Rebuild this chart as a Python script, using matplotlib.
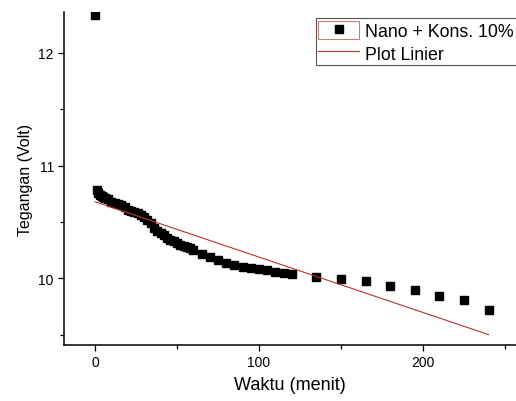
import numpy as np
import matplotlib.pyplot as plt
from matplotlib.legend_handler import HandlerLine2D
from matplotlib.patches import Rectangle

plt.rcParams['font.family'] = ['Liberation Sans', 'DejaVu Sans']

# pengukuran tegangan (menit, volt)
waktu = [0, 1, 2, 3, 4, 5, 6, 8, 10, 12, 14, 16, 18, 20, 22, 24, 26, 28,
         30, 32, 34, 36, 38, 40, 42, 44, 46, 48, 50, 52, 54, 56, 58, 60,
         65, 70, 75, 80, 85, 90, 95, 100, 105, 110, 115, 120,
         135, 150, 165, 180, 195, 210, 225, 240]
tegangan = [12.34, 10.78, 10.76, 10.74, 10.73, 10.72, 10.71, 10.70, 10.68,
            10.67, 10.66, 10.65, 10.63, 10.61, 10.60, 10.59, 10.58, 10.56,
            10.54, 10.52, 10.49, 10.45, 10.42, 10.40, 10.38, 10.36, 10.34,
            10.33, 10.31, 10.30, 10.29, 10.28, 10.27, 10.25,
            10.22, 10.19, 10.16, 10.14, 10.12, 10.10, 10.09, 10.08, 10.07,
            10.06, 10.05, 10.04,
            10.01, 9.99, 9.98, 9.93, 9.90, 9.84, 9.81, 9.72]

# garis linier (titik awal dan akhir)
fit_x = [0, 240]
fit_y = [10.68, 9.50]


class BoxedMarker(HandlerLine2D):
    # marker legenda di dalam kotak kecil ala Origin
    def create_artists(self, legend, orig_handle, xdescent, ydescent,
                       width, height, fontsize, trans):
        artists = super().create_artists(legend, orig_handle, xdescent,
                                         ydescent, width, height, fontsize, trans)
        box = Rectangle((-xdescent, -ydescent), width, height, fill=False,
                        edgecolor='#c08080', lw=0.8, transform=trans)
        return [box] + artists


fig = plt.figure(figsize=(5.16, 4.02), dpi=100)
ax = fig.add_axes([0.1231, 0.1393, 0.8769, 0.8284])

pts, = ax.plot(waktu, tegangan, 's', color='black', ms=5.2, mec='black',
               label='Nano + Kons. 10%')
fit, = ax.plot(fit_x, fit_y, '-', color='#b83232', lw=0.8, label='Plot Linier')

ax.set_xlim(-19.2, 256.7)
ax.set_ylim(9.408, 12.364)
ax.set_xticks([0, 100, 200])
ax.set_xticks([50, 150, 250], minor=True)
ax.set_yticks([10, 11, 12])
ax.set_yticks([9.5, 10.5, 11.5], minor=True)

for side in ['top', 'right']:
    ax.spines[side].set_visible(False)
for side in ['left', 'bottom']:
    ax.spines[side].set_linewidth(1.1)

ax.tick_params(which='major', direction='out', length=4, width=0.9,
               labelsize=10, pad=3)
ax.tick_params(which='minor', direction='out', length=3, width=0.9)

ax.set_xlabel('Waktu (menit)', fontsize=13, labelpad=5)
ax.set_ylabel('Tegangan (Volt)', fontsize=11.5, labelpad=4)

leg = fig.legend(handles=[pts, fit], loc='upper left',
                 bbox_to_anchor=(315.7 / 516, 1 - 19.3 / 402),
                 bbox_transform=fig.transFigure,
                 handler_map={pts: BoxedMarker(numpoints=1)},
                 fontsize=12.8, frameon=True, fancybox=False, framealpha=1,
                 edgecolor='#555555', borderpad=0.15, borderaxespad=0,
                 handlelength=2.3, handleheight=1.2, handletextpad=0.35,
                 labelspacing=0.2)
leg.get_frame().set_linewidth(0.8)

fig.savefig('out.png', dpi=100)
